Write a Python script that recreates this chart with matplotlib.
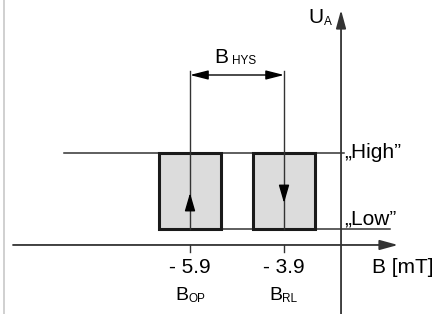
import matplotlib
matplotlib.use("Agg")
import matplotlib.pyplot as plt
from matplotlib.patches import Rectangle

# data (schematic, in mT / logic level)
switch_points = [-5.9, -3.9]
tick_labels = ["- 5.9", "- 3.9"]
point_names = [("B", "OP"), ("B", "RL")]
levels = [0, 1]          # Low, High
level_labels = ["\u201eLow\u201d", "\u201eHigh\u201d"]
box_halfwidth = 0.65
arrow_dirs = [1, -1]     # up at B_OP, down at B_RL

plt.rcParams['font.family'] = ['Liberation Sans', 'DejaVu Sans']
FS = 15
FSS = 8.5

fig = plt.figure(figsize=(4.48, 3.14), dpi=100)
ax = fig.add_axes([0, 0, 1, 1])
X0, X1 = -9.943, -0.411
Y0, Y1 = -1.118, 3.013
ax.set_xlim(X0, X1)
ax.set_ylim(Y0, Y1)
ax.axis('off')

px = 1 / 47.0   # mT per pixel
py = 1 / 76.0   # level per pixel

x_axis_y = -0.21
y_axis_x = -2.687
dark = '#333333'

# left border
ax.plot([X0 + 4 * px] * 2, [Y0, Y1], color='#c8c8c8', lw=1.2)

# x axis
ax.annotate('', xy=(X0 + 398 * px, x_axis_y), xytext=(X0 + 13 * px, x_axis_y),
            arrowprops=dict(arrowstyle='-|>,head_length=1.1,head_width=0.3', color=dark, lw=1.3,
                            shrinkA=0, shrinkB=0))
# y axis
ax.annotate('', xy=(y_axis_x, Y1 - 10 * py), xytext=(y_axis_x, Y0),
            arrowprops=dict(arrowstyle='-|>,head_length=1.1,head_width=0.3', color=dark, lw=1.3,
                            shrinkA=0, shrinkB=0))
ax.text(X0 + 324 * px, Y1 - 17.5 * py, 'U', fontsize=FS, va='center', ha='right')
ax.text(X0 + 324 * px, Y1 - 21.5 * py, 'A', fontsize=FSS, va='center', ha='left')

# High / Low lines
ax.plot([X0 + 64 * px, y_axis_x + 3 * px], [levels[1]] * 2, color=dark, lw=1.1)
ax.plot([switch_points[0] - box_halfwidth, X0 + 390 * px], [levels[0]] * 2, color=dark, lw=1.1)
ax.text(X0 + 344 * px, levels[1] + 1 * py, level_labels[1], fontsize=FS, va='center', ha='left')
ax.text(X0 + 344 * px, levels[0] + 10.5 * py, level_labels[0], fontsize=FS, va='center', ha='left')

for i, b in enumerate(switch_points):
    ax.add_patch(Rectangle((b - box_halfwidth, levels[0]), 2 * box_halfwidth, levels[1] - levels[0],
                           facecolor='#dcdcdc', edgecolor='#1a1a1a', lw=2.2, zorder=2))
    # vertical line
    ax.plot([b, b], [levels[0], levels[1] + 82 * py], color=dark, lw=1.0, zorder=3)
    # tick on x axis
    ax.plot([b, b], [x_axis_y, x_axis_y - 7 * py], color=dark, lw=1.0)
    # direction arrow
    d = arrow_dirs[i]
    if d > 0:
        tip, base = 0.474, 0.276
    else:
        tip, base = 0.342, 0.54
    ax.annotate('', xy=(b, tip), xytext=(b, base),
                arrowprops=dict(arrowstyle='-|>,head_length=1.1,head_width=0.32', color='black',
                                lw=1.0, shrinkA=0, shrinkB=0), zorder=4)
    ax.text(b, x_axis_y - 22.5 * py, tick_labels[i], fontsize=FS, ha='center', va='center')
    ax.text(b - 2 * px, x_axis_y - 51 * py, point_names[i][0], fontsize=FS - 1, ha='right', va='center')
    ax.text(b - 2 * px, x_axis_y - 54 * py, point_names[i][1], fontsize=FSS, ha='left', va='center')

ax.text(X0 + 372 * px, x_axis_y - 22.5 * py, 'B [mT]', fontsize=FS, ha='left', va='center')

# hysteresis dimension arrow
y_dim = levels[1] + 78 * py
ax.annotate('', xy=(switch_points[0], y_dim), xytext=(switch_points[1], y_dim),
            arrowprops=dict(arrowstyle='<|-|>,head_length=1.1,head_width=0.28', color='black', lw=1.0,
                            shrinkA=0, shrinkB=0))
ax.text(X0 + 214 * px, levels[1] + 95.5 * py, 'B', fontsize=FS, ha='left', va='center')
ax.text(X0 + 232 * px, levels[1] + 92 * py, 'HYS', fontsize=FSS, ha='left', va='center')

fig.savefig('out.png', dpi=100)
